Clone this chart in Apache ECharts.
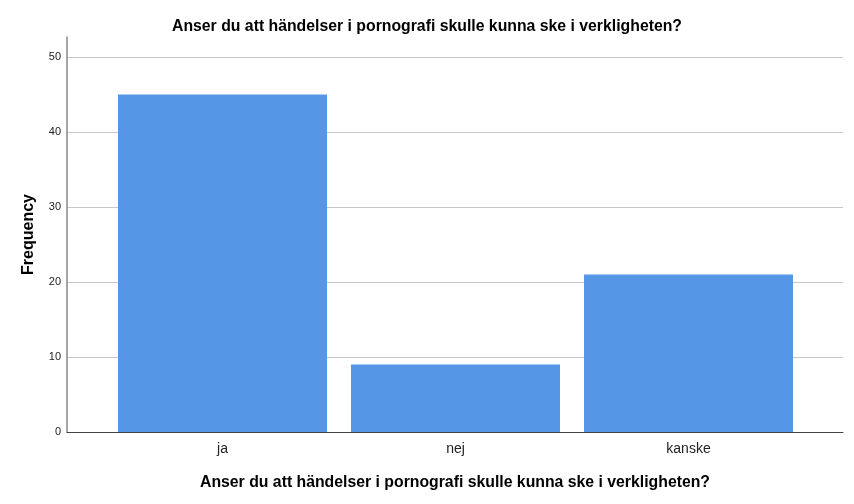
<!DOCTYPE html>
<html><head><meta charset="utf-8">
<script src="https://cdn.jsdelivr.net/npm/echarts@6/dist/echarts.min.js"></script>
<style>html,body{margin:0;padding:0;background:#fff}#c{width:854px;height:504px}</style>
</head><body><div id="c"></div>
<script>
const titleText = "Anser du att händelser i pornografi skulle kunna ske i verkligheten?";
const categories = ["ja", "nej", "kanske"];
const frequencies = [45, 9, 21];
const yMax = 52.67;
const yInterval = 10;

const chart = echarts.init(document.getElementById('c'), null, {renderer: 'canvas'});
const font = "Liberation Sans, Arial, sans-serif";
chart.setOption({
  animation: false,
  backgroundColor: '#fff',
  title: {
    text: titleText, left: 'center', top: 14,
    textStyle: {fontFamily: font, fontSize: 15.8, fontWeight: 'bold', color: '#000'}
  },
  grid: [
    {left: 67, right: 11, top: 37, bottom: 72},
    {left: 106, right: 49, top: 37, bottom: 72}
  ],
  xAxis: [
    {gridIndex: 0, type: 'value', min: 0, max: 1, axisLine: {show: true, lineStyle: {color: '#444', width: 1}},
     axisTick: {show: false}, axisLabel: {show: false}, splitLine: {show: false},
     name: titleText, nameLocation: 'middle', nameGap: 43,
     nameTextStyle: {fontFamily: font, fontSize: 15.8, fontWeight: 'bold', color: '#000'}},
    {gridIndex: 1, type: 'category', data: categories, axisLine: {show: false}, axisTick: {show: false},
     axisLabel: {fontFamily: font, fontSize: 14, color: '#222', margin: 10}}
  ],
  yAxis: [
    {gridIndex: 0, type: 'value', min: 0, max: yMax, interval: yInterval,
     axisLine: {show: true, lineStyle: {color: '#888', width: 1.5}},
     axisTick: {show: false},
     axisLabel: {fontFamily: font, fontSize: 11, color: '#222', margin: 6, showMaxLabel: false,
       formatter: v => (v % 10 === 0 ? String(v) : '')},
     splitLine: {show: true, showMinLine: false, showMaxLine: false, lineStyle: {color: '#c8c8c8', width: 1.2}},
     name: 'Frequency', nameLocation: 'middle', nameGap: 30, nameRotate: 90,
     nameTextStyle: {fontFamily: font, fontSize: 16, fontWeight: 'bold', color: '#000'}},
    {gridIndex: 1, type: 'value', min: 0, max: yMax, interval: yInterval, show: false}
  ],
  series: [{
    type: 'bar', xAxisIndex: 1, yAxisIndex: 1, data: frequencies,
    barWidth: 209, itemStyle: {color: '#5596e6'}
  }]
});
</script></body></html>
